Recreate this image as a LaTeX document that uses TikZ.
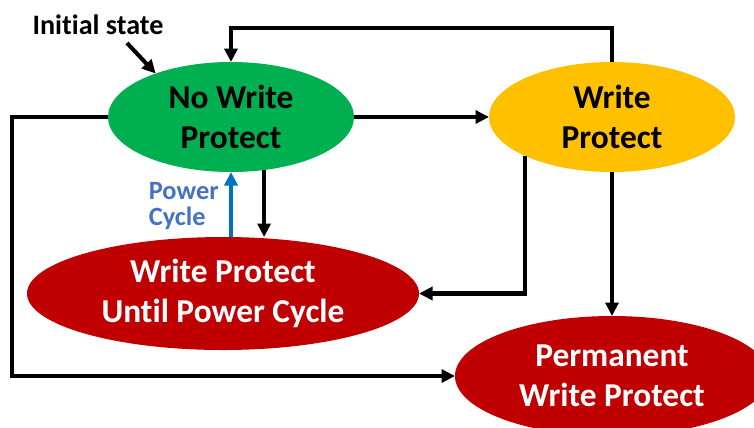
\documentclass[tikz,border=0pt]{standalone}
\usepackage{fontspec}
\setmainfont{Carlito}[Ligatures=NoCommon]
\usetikzlibrary{arrows.meta,shapes.geometric}

\definecolor{wpgreen}{HTML}{00B050}
\definecolor{wpyellow}{HTML}{FFC000}
\definecolor{wpred}{HTML}{C00000}
\definecolor{pcblue}{HTML}{0070C0}
\definecolor{pctext}{HTML}{4472C4}

\begin{document}
\begin{tikzpicture}[
  ell/.style={ellipse, inner sep=0pt, outer sep=0pt, align=center,
              font=\fontsize{19}{23}\selectfont\bfseries},
  arr/.style={-{Triangle[length=0.27cm,width=0.26cm]}, line width=2.3pt},
  parr/.style={arr, pcblue},
  lbl/.style={inner sep=0pt, align=left},
]
  \useasboundingbox (0,0) rectangle (15.08,-8.54);
  \clip (0,0) rectangle (15.08,-8.54);

  % --- States ---
  \node[ell, fill=wpgreen, minimum width=4.92cm, minimum height=2.2cm]
    (nwp) at (4.62,-2.34) {No Write\\Protect};
  \node[ell, fill=wpyellow, minimum width=4.92cm, minimum height=2.2cm]
    (wp) at (12.24,-2.34) {Write\\Protect};
  \node[ell, fill=wpred, text=white, minimum width=7.84cm, minimum height=2.26cm]
    (wpu) at (4.46,-5.87) {Write Protect\\Until Power Cycle};
  \node[ell, fill=wpred, text=white, minimum width=6.28cm, minimum height=2.4cm]
    (pwp) at (12.24,-7.52) {Permanent\\Write Protect};

  % --- Labels ---
  \node[lbl, font=\fontsize{16}{18}\selectfont\bfseries] (init) at (1.96,-0.5) {Initial state};
  \node[lbl, text=pctext, anchor=east, font=\fontsize{15}{15}\selectfont\bfseries]
    (pc) at (4.38,-4.12) {Power\\Cycle};

  \coordinate (ist) at (2.54,-0.86);
  \coordinate (lft) at (0.24,-7.52);

  % --- Transitions ---
  \draw[arr] (ist) -- (nwp.150);
  \draw[arr] (nwp.east) -- (wp.west);
  \draw[arr] (wp.north) -- ++(0,0.68) -| (nwp.north);
  \draw[arr] (nwp.302) -- (nwp.302 |- wpu.north);
  \draw[parr] (nwp.south |- wpu.north) -- (nwp.south);
  \draw[arr] (wp.204) |- (wpu.east);
  \draw[arr] (wp.south) -- (pwp.north);
  \draw[arr] (nwp.west) -| (lft) -- (pwp.west);

\end{tikzpicture}
\end{document}
